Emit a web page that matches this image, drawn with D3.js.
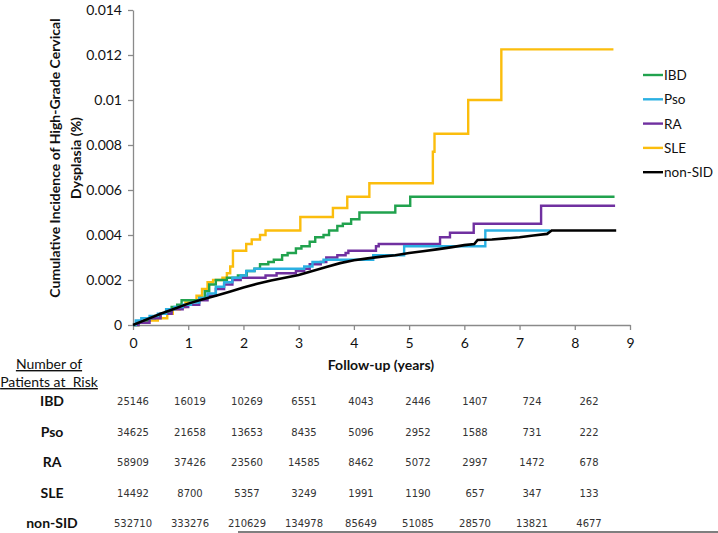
<!DOCTYPE html>
<html><head><meta charset="utf-8">
<script src="https://cdn.jsdelivr.net/npm/d3@7"></script>
<style>
html,body{margin:0;padding:0;background:#fff;}
svg{display:block;}
</style></head>
<body>
<svg id="chart" width="718" height="533"></svg>
<script>
// ---- data ----
const seriesNames = ["IBD","Pso","RA","SLE","non-SID"];
const seriesColors = ["#21a24e","#2bb0e2","#7030a0","#fbbd0d","#000000"];
const yTicks = [0,0.002,0.004,0.006,0.008,0.01,0.012,0.014];
const yTickLabels = ["0","0.002","0.004","0.006","0.008","0.01","0.012","0.014"];
const xTicks = [0,1,2,3,4,5,6,7,8,9];
const riskYears = [0,1,2,3,4,5,6,7,8];

const ibd = [[0,0],[0.1,0.0001],[0.2,0.0002],[0.3,0.0003],[0.4,0.0004],[0.5,0.0005],[0.6,0.0006],[0.7,0.0008],[0.8,0.0009],[0.88,0.0011],[1.2,0.0012],[1.3,0.0015],[1.38,0.0018],[1.5,0.0020],[1.7,0.0021],[1.9,0.0022],[2.06,0.0024],[2.2,0.0025],[2.3,0.0027],[2.45,0.0028],[2.55,0.0029],[2.7,0.0031],[2.8,0.0032],[2.95,0.0034],[3.05,0.0035],[3.2,0.0037],[3.3,0.0039],[3.45,0.0040],[3.55,0.0042],[3.7,0.0044],[3.8,0.0045],[3.95,0.0047],[4.1,0.0050],[4.75,0.0053],[5.02,0.0057],[8.72,0.0057]];
const pso = [[0,0],[0.05,0.0002],[0.15,0.0003],[0.3,0.0004],[0.45,0.0005],[0.6,0.0007],[0.75,0.0008],[0.9,0.0009],[1.05,0.001],[1.2,0.0012],[1.35,0.0014],[1.5,0.0017],[1.65,0.0019],[1.8,0.0021],[1.95,0.0022],[2.05,0.0024],[2.2,0.0025],[3.0,0.0025],[3.1,0.0026],[3.25,0.0028],[3.45,0.0029],[4.35,0.0031],[4.91,0.0035],[6.38,0.0042],[7.55,0.0042]];
const ra = [[0,0],[0.1,0.0001],[0.3,0.0003],[0.5,0.0005],[0.7,0.0007],[0.9,0.0008],[1.0,0.0009],[1.2,0.0011],[1.35,0.0013],[1.5,0.0016],[1.65,0.0018],[1.8,0.0020],[1.95,0.0021],[2.4,0.0022],[2.6,0.0023],[2.95,0.0024],[3.1,0.0025],[3.2,0.0027],[3.4,0.0028],[3.5,0.0030],[3.7,0.0031],[3.85,0.0032],[3.9,0.0033],[4.4,0.0035],[4.45,0.0036],[5.56,0.0039],[5.74,0.0041],[6.17,0.0045],[7.39,0.0053],[8.73,0.0053]];
const sle = [[0,0],[0.1,0.0001],[0.25,0.0002],[0.45,0.0003],[0.62,0.0005],[0.72,0.0007],[0.85,0.0008],[0.95,0.001],[1.05,0.0011],[1.15,0.0013],[1.25,0.0016],[1.35,0.0019],[1.45,0.002],[1.62,0.0021],[1.7,0.0023],[1.76,0.0026],[1.81,0.0033],[2.05,0.0036],[2.15,0.0038],[2.3,0.004],[2.4,0.0042],[3.03,0.0048],[3.62,0.0052],[3.88,0.0057],[4.28,0.0063],[5.43,0.0077],[5.46,0.0085],[6.07,0.0100],[6.67,0.01225],[8.70,0.01225]];
const nonSid = [[0,0],[0.25,0.00025],[0.5,0.0005],[0.75,0.00072],[1,0.00095],[1.25,0.00113],[1.5,0.0013],[1.75,0.00148],[2,0.00167],[2.25,0.00183],[2.5,0.00198],[2.75,0.0021],[3,0.00222],[3.25,0.0024],[3.5,0.00258],[3.75,0.00275],[4,0.00288],[4.25,0.00296],[4.5,0.00304],[4.75,0.0031],[5,0.0032],[5.25,0.00328],[5.5,0.00336],[5.75,0.00345],[6.0,0.00355],[6.18,0.0036],[6.24,0.00378],[6.5,0.0038],[6.75,0.00385],[7,0.0039],[7.25,0.00398],[7.5,0.00405],[7.58,0.0042],[8.75,0.0042]];

const riskIBD = [25146,16019,10269,6551,4043,2446,1407,724,262];
const riskPso = [34625,21658,13653,8435,5096,2952,1588,731,222];
const riskRA = [58909,37426,23560,14585,8462,5072,2997,1472,678];
const riskSLE = [14492,8700,5357,3249,1991,1190,657,347,133];
const riskNonSID = [532710,333276,210629,134978,85649,51085,28570,13821,4677];

// ---- chart ----
const svg = d3.select("#chart");
const font = "Lato, 'Open Sans', sans-serif";
const x = d3.scaleLinear().domain([0,9]).range([133,630]);
const y = d3.scaleLinear().domain([0,0.014]).range([325,10]);
const axisColor = "#8a8a8a";

// y axis
const gy = svg.append("g").attr("transform","translate(133,0)")
  .call(d3.axisLeft(y).tickValues(yTicks).tickFormat((d,i)=>yTickLabels[i]).tickSize(5).tickSizeOuter(0).tickPadding(6));
gy.select(".domain").attr("stroke",axisColor).attr("stroke-width",1.3);
gy.selectAll(".tick line").attr("stroke",axisColor).attr("stroke-width",1.3);
gy.selectAll(".tick text").attr("font-family",font).attr("font-size",14).attr("fill","#111");

// x axis
const gx = svg.append("g").attr("transform","translate(0,325)")
  .call(d3.axisBottom(x).tickValues(xTicks).tickFormat(d3.format("d")).tickSize(5).tickSizeOuter(0).tickPadding(8));
gx.select(".domain").attr("stroke",axisColor).attr("stroke-width",1.3);
gx.selectAll(".tick line").attr("stroke",axisColor).attr("stroke-width",1.3);
gx.selectAll(".tick text").attr("font-family",font).attr("font-size",14).attr("fill","#111");

// axis titles
const yt = svg.append("text").attr("transform","translate(60,158) rotate(-90)")
  .attr("text-anchor","middle").attr("font-family",font).attr("font-weight","bold").attr("font-size",14).attr("fill","#111");
yt.append("tspan").attr("x",0).attr("dy",0).text("Cumulative Incidence of High-Grade Cervical");
yt.append("tspan").attr("x",0).attr("dy",21).text("Dysplasia (%)");

svg.append("text").attr("x",381).attr("y",370).attr("text-anchor","middle")
  .attr("font-family",font).attr("font-weight","bold").attr("font-size",14).attr("fill","#111")
  .text("Follow-up (years)");

// lines
const seriesData = [ibd,pso,ra,sle,nonSid];
const drawOrder = [3,0,2,1,4];
const line = d3.line().x(d=>x(d[0])).y(d=>y(d[1])).curve(d3.curveStepAfter);
const lineSmooth = d3.line().x(d=>x(d[0])).y(d=>y(d[1])).curve(d3.curveLinear);
drawOrder.forEach(i=>{
  svg.append("path").datum(seriesData[i])
    .attr("d", i===4 ? lineSmooth : line)
    .attr("fill","none").attr("stroke",seriesColors[i])
    .attr("stroke-width", i===4 ? 2.6 : 2.4).attr("stroke-linejoin","miter");
});

// legend
const lg = svg.append("g");
seriesNames.forEach((n,i)=>{
  const yy = 75 + i*24.3;
  lg.append("line").attr("x1",643).attr("x2",663).attr("y1",yy).attr("y2",yy)
    .attr("stroke",seriesColors[i]).attr("stroke-width",2.4);
  lg.append("text").attr("x",664).attr("y",yy+5).attr("font-family",font).attr("font-size",13.5)
    .attr("fill","#111").text(n);
});

// risk table
svg.append("text").attr("x",49).attr("y",369).attr("text-anchor","middle")
  .attr("font-family",font).attr("font-size",14).attr("fill","#111")
  .attr("text-decoration","underline").text("Number of");
svg.append("text").attr("x",49).attr("y",387).attr("text-anchor","middle")
  .attr("font-family",font).attr("font-size",14).attr("fill","#111")
  .attr("text-decoration","underline").attr("xml:space","preserve").text("Patients at  Risk");

const riskRows = [riskIBD,riskPso,riskRA,riskSLE,riskNonSID];
const colX = d3.scaleLinear().domain([0,8]).range([133,589]);
const rowY = d3.scaleLinear().domain([0,4]).range([401,523]);
riskRows.forEach((row,i)=>{
  svg.append("text").attr("x",52).attr("y",rowY(i)+5).attr("text-anchor","middle")
    .attr("font-family",font).attr("font-weight","bold").attr("font-size",14).attr("fill","#111")
    .text(seriesNames[i]);
  row.forEach((v,j)=>{
    svg.append("text").attr("x",colX(riskYears[j])).attr("y",rowY(i)+4).attr("text-anchor","middle")
      .attr("font-family","'DejaVu Sans', sans-serif").attr("font-size",10).attr("fill","#333")
      .text(v);
  });
});
svg.append("line").attr("x1",238).attr("x2",718).attr("y1",532).attr("y2",532)
  .attr("stroke","#7f7f7f").attr("stroke-width",2);
</script>
</body></html>
